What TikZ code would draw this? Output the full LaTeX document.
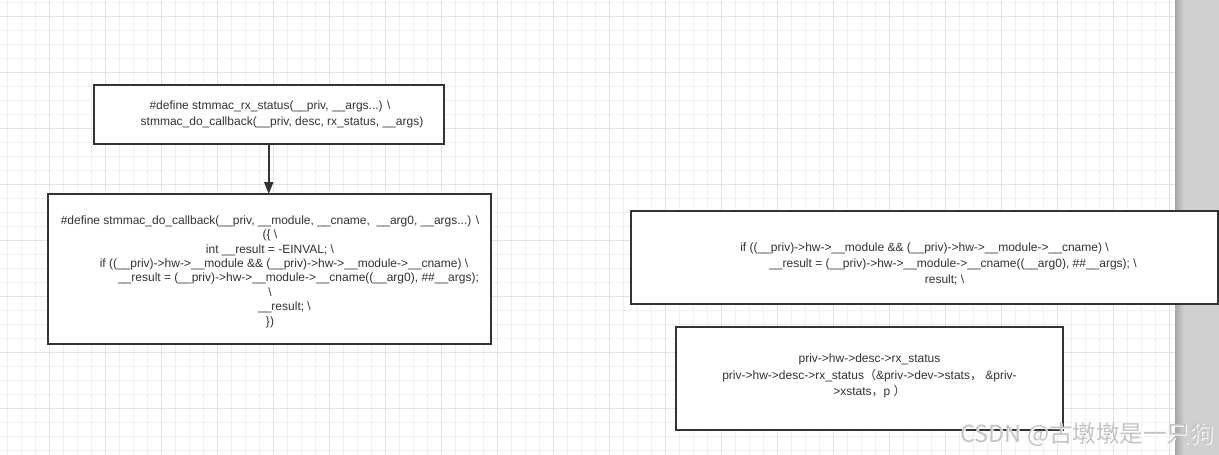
\documentclass[tikz,border=0pt]{standalone}
\usepackage{fontspec}
\setmainfont{Liberation Sans}
\newfontfamily\cjk{Noto Sans CJK SC}
\usetikzlibrary{arrows.meta}
\definecolor{edge}{HTML}{333333}
\definecolor{gridminor}{HTML}{F0F0F0}
\definecolor{gridmajor}{HTML}{E2E2E2}
\definecolor{strip}{HTML}{D0D0D2}
\definecolor{stripdark}{HTML}{A6A6A8}
\definecolor{mark}{HTML}{C4C4C4}
\newcommand{\bs}{\textbackslash}
\newcommand{\us}{\_\_}
\begin{document}
\begin{tikzpicture}[x=1pt,y=-1pt,
  box/.style={rectangle,draw=edge,line width=2pt,fill=white,inner sep=0pt,outer sep=0pt},
  txt/.style={align=center,text=edge,inner sep=0pt,font=\fontsize{12}{16}\selectfont},
  txtb/.style={align=center,text=edge,inner sep=0pt,font=\fontsize{12}{14.4}\selectfont},
  arr/.style={draw=edge,line width=2pt,-{Triangle[length=12pt,width=9pt]}}]
\useasboundingbox (0,0) rectangle (1219,455);
\fill[white] (0,0) rectangle (1219,455);
% grid
\foreach \x in {7,21,...,1175} \draw[gridminor,line width=1pt] (\x,0) -- (\x,455);
\foreach \y in {2,16,...,455} \draw[gridminor,line width=1pt] (0,\y) -- (1175,\y);
\foreach \x in {49,105,...,1175} \draw[gridmajor,line width=1pt] (\x,0) -- (\x,455);
\foreach \y in {16,72,...,455} \draw[gridmajor,line width=1pt] (0,\y) -- (1175,\y);
% right strip
\fill[strip] (1175,0) rectangle (1219,455);
\shade[left color=stripdark,right color=strip] (1175,0) rectangle (1184,455);
% boxes
\node[box,minimum width=350.5pt,minimum height=59.5pt] (b1) at (268.75,114.25) {};
\node[box,minimum width=443.5pt,minimum height=150pt] (b2) at (269.25,269) {};
\node[box,minimum width=586.5pt,minimum height=93pt] (b3) at (924.25,257.5) {};
\node[box,minimum width=387pt,minimum height=103pt] (b4) at (869.5,378.5) {};
% texts
\node[txt] (t1) at (270,114.5) {\#define stmmac\_rx\_status(\us priv, \us args...) \bs\\
\hspace*{24pt}stmmac\_do\_callback(\us priv, desc, rx\_status, \us args)};
\node[txtb] (t2) at (270,271.5) {\#define stmmac\_do\_callback(\us priv, \us module, \us cname,\ \ \us arg0, \us args...) \bs\\
(\{ \bs\\
int \us result = -EINVAL; \bs\\
\hspace*{28pt}if ((\us priv)->hw->\us module \&\& (\us priv)->hw->\us module->\us cname) \bs\\
\hspace*{57pt}\us result = (\us priv)->hw->\us module->\us cname((\us arg0), \#\#\us args);\\
\bs\\
\hspace*{29pt}\us result; \bs\\
\})};
\node[txt,font=\fontsize{12}{16.4}\selectfont] (t3) at (924.5,264) {if ((\us priv)->hw->\us module \&\& (\us priv)->hw->\us module->\us cname) \bs\\
\hspace*{57pt}\us result = (\us priv)->hw->\us module->\us cname((\us arg0), \#\#\us args); \bs\\
\hspace*{40pt}result; \bs};
\node[txt,font=\fontsize{12}{16.4}\selectfont] (t4) at (869.5,376) {priv->hw->desc->rx\_status\\
priv->hw->desc->rx\_status{\cjk （}\&priv->dev->stats{\cjk ，} \&priv-\\
>xstats{\cjk ，}p {\cjk ）}};
% connector
\draw[arr] (b1.south) -- (b1.south |- b2.north);
% watermark
\node[text=white,font=\cjk\fontsize{23.5}{23.5}\selectfont,inner sep=0pt] (wm0) at (1088,436) {CSDN @古墩墩是一只狗};
\node[text=mark,font=\cjk\fontsize{23.5}{23.5}\selectfont,inner sep=0pt] (wm) at (1087,435) {CSDN @古墩墩是一只狗};
\end{tikzpicture}
\end{document}
